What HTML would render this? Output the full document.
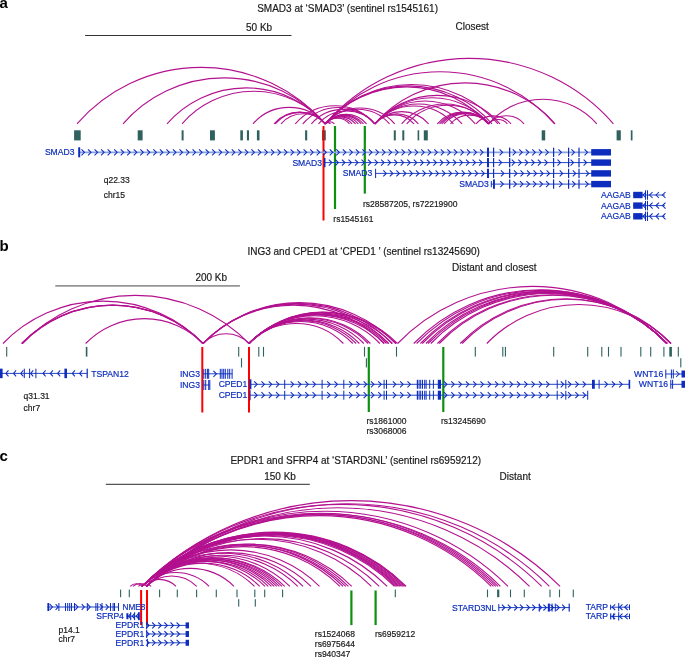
<!DOCTYPE html>
<html><head><meta charset="utf-8"><style>
html,body{margin:0;padding:0;background:#fff;}
svg{display:block;font-family:"Liberation Sans",sans-serif;-webkit-font-smoothing:antialiased;will-change:transform;}
</style></head><body>
<svg width="685" height="658" viewBox="0 0 685 658">
<text x="-0.60" y="7.90" font-size="15" fill="#000" text-anchor="start" font-weight="bold">a</text>
<text x="257.20" y="12.40" font-size="10" fill="#1a1a1a" stroke="#1a1a1a" stroke-width="0.18" text-anchor="start" font-weight="normal">SMAD3 at ‘SMAD3’ (sentinel rs1545161)</text>
<line x1="85.10" y1="35.50" x2="291.50" y2="35.50" stroke="#333" stroke-width="1.1"/>
<text x="246.00" y="30.50" font-size="10" fill="#1a1a1a" stroke="#1a1a1a" stroke-width="0.18" text-anchor="start" font-weight="normal">50 Kb</text>
<text x="455.50" y="29.60" font-size="10" fill="#1a1a1a" stroke="#1a1a1a" stroke-width="0.18" text-anchor="start" font-weight="normal">Closest</text>
<path d="M77.00,123.80 A164.82,164.82 0 0 1 325.30,123.80" fill="none" stroke="#b3118f" stroke-width="1.1"/>
<path d="M123.00,123.80 A134.28,134.28 0 0 1 325.30,123.80" fill="none" stroke="#b3118f" stroke-width="1.1"/>
<path d="M167.00,123.80 A105.08,105.08 0 0 1 325.30,123.80" fill="none" stroke="#b3118f" stroke-width="1.1"/>
<path d="M182.00,123.80 A95.12,95.12 0 0 1 325.30,123.80" fill="none" stroke="#b3118f" stroke-width="1.1"/>
<path d="M253.00,123.80 A47.99,47.99 0 0 1 325.30,123.80" fill="none" stroke="#b3118f" stroke-width="1.1"/>
<path d="M274.00,123.80 A34.05,34.05 0 0 1 325.30,123.80" fill="none" stroke="#b3118f" stroke-width="1.1"/>
<path d="M275.20,123.80 A33.26,33.26 0 0 1 325.30,123.80" fill="none" stroke="#b3118f" stroke-width="1.1"/>
<path d="M281.00,123.80 A29.41,29.41 0 0 1 325.30,123.80" fill="none" stroke="#b3118f" stroke-width="1.1"/>
<path d="M325.30,123.80 A3.45,3.45 0 0 1 330.50,123.80" fill="none" stroke="#b3118f" stroke-width="1.1"/>
<path d="M325.30,123.80 A6.04,6.04 0 0 1 334.40,123.80" fill="none" stroke="#b3118f" stroke-width="1.1"/>
<path d="M325.30,123.80 A16.06,16.06 0 0 1 349.50,123.80" fill="none" stroke="#b3118f" stroke-width="1.1"/>
<path d="M325.30,123.80 A17.79,17.79 0 0 1 352.10,123.80" fill="none" stroke="#b3118f" stroke-width="1.1"/>
<path d="M325.30,123.80 A20.11,20.11 0 0 1 355.60,123.80" fill="none" stroke="#b3118f" stroke-width="1.1"/>
<path d="M325.30,123.80 A21.90,21.90 0 0 1 358.30,123.80" fill="none" stroke="#b3118f" stroke-width="1.1"/>
<path d="M325.30,123.80 A23.90,23.90 0 0 1 361.30,123.80" fill="none" stroke="#b3118f" stroke-width="1.1"/>
<path d="M325.30,123.80 A25.36,25.36 0 0 1 363.50,123.80" fill="none" stroke="#b3118f" stroke-width="1.1"/>
<path d="M325.30,123.80 A27.41,27.41 0 0 1 366.60,123.80" fill="none" stroke="#b3118f" stroke-width="1.1"/>
<path d="M325.30,123.80 A42.61,42.61 0 0 1 389.50,123.80" fill="none" stroke="#b3118f" stroke-width="1.1"/>
<path d="M325.30,123.80 A46.07,46.07 0 0 1 394.70,123.80" fill="none" stroke="#b3118f" stroke-width="1.1"/>
<path d="M325.30,123.80 A108.00,108.00 0 0 1 488.00,123.80" fill="none" stroke="#b3118f" stroke-width="1.1"/>
<path d="M325.30,123.80 A110.65,110.65 0 0 1 492.00,123.80" fill="none" stroke="#b3118f" stroke-width="1.1"/>
<path d="M325.30,123.80 A114.63,114.63 0 0 1 498.00,123.80" fill="none" stroke="#b3118f" stroke-width="1.1"/>
<path d="M325.30,123.80 A152.20,152.20 0 0 1 554.60,123.80" fill="none" stroke="#b3118f" stroke-width="1.1"/>
<path d="M325.30,123.80 A191.23,191.23 0 0 1 613.40,123.80" fill="none" stroke="#b3118f" stroke-width="1.1"/>
<path d="M295.30,123.80 A52.77,52.77 0 0 1 374.80,123.80" fill="none" stroke="#b3118f" stroke-width="1.1"/>
<path d="M302.80,123.80 A47.79,47.79 0 0 1 374.80,123.80" fill="none" stroke="#b3118f" stroke-width="1.1"/>
<path d="M311.40,123.80 A42.08,42.08 0 0 1 374.80,123.80" fill="none" stroke="#b3118f" stroke-width="1.1"/>
<path d="M318.50,123.80 A37.37,37.37 0 0 1 374.80,123.80" fill="none" stroke="#b3118f" stroke-width="1.1"/>
<path d="M374.80,123.80 A26.02,26.02 0 0 1 414.00,123.80" fill="none" stroke="#b3118f" stroke-width="1.1"/>
<path d="M374.80,123.80 A28.94,28.94 0 0 1 418.40,123.80" fill="none" stroke="#b3118f" stroke-width="1.1"/>
<path d="M374.80,123.80 A35.71,35.71 0 0 1 428.60,123.80" fill="none" stroke="#b3118f" stroke-width="1.1"/>
<path d="M374.80,123.80 A52.17,52.17 0 0 1 453.40,123.80" fill="none" stroke="#b3118f" stroke-width="1.1"/>
<path d="M374.80,123.80 A57.88,57.88 0 0 1 462.00,123.80" fill="none" stroke="#b3118f" stroke-width="1.1"/>
<path d="M374.80,123.80 A66.71,66.71 0 0 1 475.30,123.80" fill="none" stroke="#b3118f" stroke-width="1.1"/>
<path d="M374.80,123.80 A76.14,76.14 0 0 1 489.50,123.80" fill="none" stroke="#b3118f" stroke-width="1.1"/>
<path d="M374.80,123.80 A83.10,83.10 0 0 1 500.00,123.80" fill="none" stroke="#b3118f" stroke-width="1.1"/>
<path d="M374.80,123.80 A119.68,119.68 0 0 1 555.10,123.80" fill="none" stroke="#b3118f" stroke-width="1.1"/>
<path d="M401.60,123.80 A57.75,57.75 0 0 1 488.60,123.80" fill="none" stroke="#b3118f" stroke-width="1.1"/>
<path d="M406.70,123.80 A54.36,54.36 0 0 1 488.60,123.80" fill="none" stroke="#b3118f" stroke-width="1.1"/>
<path d="M437.30,123.80 A34.05,34.05 0 0 1 488.60,123.80" fill="none" stroke="#b3118f" stroke-width="1.1"/>
<path d="M439.50,123.80 A32.59,32.59 0 0 1 488.60,123.80" fill="none" stroke="#b3118f" stroke-width="1.1"/>
<path d="M441.70,123.80 A31.13,31.13 0 0 1 488.60,123.80" fill="none" stroke="#b3118f" stroke-width="1.1"/>
<path d="M444.00,123.80 A29.60,29.60 0 0 1 488.60,123.80" fill="none" stroke="#b3118f" stroke-width="1.1"/>
<path d="M450.50,123.80 A25.29,25.29 0 0 1 488.60,123.80" fill="none" stroke="#b3118f" stroke-width="1.1"/>
<path d="M488.60,123.80 A12.48,12.48 0 0 1 507.40,123.80" fill="none" stroke="#b3118f" stroke-width="1.1"/>
<path d="M488.60,123.80 A23.50,23.50 0 0 1 524.00,123.80" fill="none" stroke="#b3118f" stroke-width="1.1"/>
<path d="M488.60,123.80 A71.82,71.82 0 0 1 596.80,123.80" fill="none" stroke="#b3118f" stroke-width="1.1"/>
<path d="M476.00,123.80 A23.23,23.23 0 0 1 511.00,123.80" fill="none" stroke="#b3118f" stroke-width="1.1"/>
<rect x="74.10" y="130.30" width="6.60" height="10.10" fill="#2f625e"/>
<rect x="137.70" y="130.30" width="4.90" height="10.10" fill="#2f625e"/>
<rect x="181.60" y="130.30" width="2.00" height="10.10" fill="#2f625e"/>
<rect x="210.00" y="130.30" width="4.90" height="10.10" fill="#2f625e"/>
<rect x="240.30" y="130.30" width="2.60" height="10.10" fill="#2f625e"/>
<rect x="246.90" y="130.30" width="2.10" height="10.10" fill="#2f625e"/>
<rect x="256.90" y="130.30" width="2.60" height="10.10" fill="#2f625e"/>
<rect x="305.10" y="130.30" width="2.10" height="10.10" fill="#2f625e"/>
<rect x="322.00" y="130.30" width="3.80" height="10.10" fill="#2f625e"/>
<rect x="334.20" y="130.30" width="1.60" height="10.10" fill="#2f625e"/>
<rect x="364.00" y="130.30" width="1.60" height="10.10" fill="#2f625e"/>
<rect x="393.80" y="130.30" width="2.00" height="10.10" fill="#2f625e"/>
<rect x="402.30" y="130.30" width="2.00" height="10.10" fill="#2f625e"/>
<rect x="417.60" y="130.30" width="1.60" height="10.10" fill="#2f625e"/>
<rect x="423.80" y="130.30" width="4.00" height="10.10" fill="#2f625e"/>
<rect x="541.70" y="130.30" width="3.50" height="10.10" fill="#2f625e"/>
<rect x="616.60" y="130.30" width="4.20" height="10.10" fill="#2f625e"/>
<rect x="630.80" y="130.30" width="1.70" height="10.10" fill="#2f625e"/>
<line x1="323.50" y1="126.00" x2="323.50" y2="220.50" stroke="#ff0000" stroke-width="2"/>
<line x1="335.00" y1="126.00" x2="335.00" y2="209.00" stroke="#0e900e" stroke-width="2.2"/>
<line x1="364.80" y1="126.00" x2="364.80" y2="193.60" stroke="#0e900e" stroke-width="2.2"/>
<text x="333.30" y="222.30" font-size="8.5" fill="#1a1a1a" stroke="#1a1a1a" stroke-width="0.18" text-anchor="start" font-weight="normal">rs1545161</text>
<text x="363.00" y="207.40" font-size="8.5" fill="#1a1a1a" stroke="#1a1a1a" stroke-width="0.18" text-anchor="start" font-weight="normal">rs28587205, rs72219900</text>
<text x="103.70" y="182.70" font-size="8.5" fill="#1a1a1a" stroke="#1a1a1a" stroke-width="0.18" text-anchor="start" font-weight="normal">q22.33</text>
<text x="103.70" y="197.60" font-size="8.5" fill="#1a1a1a" stroke="#1a1a1a" stroke-width="0.18" text-anchor="start" font-weight="normal">chr15</text>
<line x1="78.90" y1="152.30" x2="611.00" y2="152.30" stroke="#88a0e0" stroke-width="1.8"/>
<path d="M81.50,149.30L84.50,152.30L81.50,155.30M88.03,149.30L91.03,152.30L88.03,155.30M94.57,149.30L97.57,152.30L94.57,155.30M101.10,149.30L104.10,152.30L101.10,155.30M107.63,149.30L110.63,152.30L107.63,155.30M114.16,149.30L117.16,152.30L114.16,155.30M120.70,149.30L123.70,152.30L120.70,155.30M127.23,149.30L130.23,152.30L127.23,155.30M133.76,149.30L136.76,152.30L133.76,155.30M140.30,149.30L143.30,152.30L140.30,155.30M146.83,149.30L149.83,152.30L146.83,155.30M153.36,149.30L156.36,152.30L153.36,155.30M159.90,149.30L162.90,152.30L159.90,155.30M166.43,149.30L169.43,152.30L166.43,155.30M172.96,149.30L175.96,152.30L172.96,155.30M179.50,149.30L182.50,152.30L179.50,155.30M186.03,149.30L189.03,152.30L186.03,155.30M192.56,149.30L195.56,152.30L192.56,155.30M199.09,149.30L202.09,152.30L199.09,155.30M205.63,149.30L208.63,152.30L205.63,155.30M212.16,149.30L215.16,152.30L212.16,155.30M218.69,149.30L221.69,152.30L218.69,155.30M225.23,149.30L228.23,152.30L225.23,155.30M231.76,149.30L234.76,152.30L231.76,155.30M238.29,149.30L241.29,152.30L238.29,155.30M244.83,149.30L247.83,152.30L244.83,155.30M251.36,149.30L254.36,152.30L251.36,155.30M257.89,149.30L260.89,152.30L257.89,155.30M264.42,149.30L267.42,152.30L264.42,155.30M270.96,149.30L273.96,152.30L270.96,155.30M277.49,149.30L280.49,152.30L277.49,155.30M284.02,149.30L287.02,152.30L284.02,155.30M290.56,149.30L293.56,152.30L290.56,155.30M297.09,149.30L300.09,152.30L297.09,155.30M303.62,149.30L306.62,152.30L303.62,155.30M310.15,149.30L313.15,152.30L310.15,155.30M316.69,149.30L319.69,152.30L316.69,155.30M323.22,149.30L326.22,152.30L323.22,155.30M329.75,149.30L332.75,152.30L329.75,155.30M336.29,149.30L339.29,152.30L336.29,155.30M342.82,149.30L345.82,152.30L342.82,155.30M349.35,149.30L352.35,152.30L349.35,155.30M355.89,149.30L358.89,152.30L355.89,155.30M362.42,149.30L365.42,152.30L362.42,155.30M368.95,149.30L371.95,152.30L368.95,155.30M375.49,149.30L378.49,152.30L375.49,155.30M382.02,149.30L385.02,152.30L382.02,155.30M388.55,149.30L391.55,152.30L388.55,155.30M395.08,149.30L398.08,152.30L395.08,155.30M401.62,149.30L404.62,152.30L401.62,155.30M408.15,149.30L411.15,152.30L408.15,155.30M414.68,149.30L417.68,152.30L414.68,155.30M421.22,149.30L424.22,152.30L421.22,155.30M427.75,149.30L430.75,152.30L427.75,155.30M434.28,149.30L437.28,152.30L434.28,155.30M440.81,149.30L443.81,152.30L440.81,155.30M447.35,149.30L450.35,152.30L447.35,155.30M453.88,149.30L456.88,152.30L453.88,155.30M460.41,149.30L463.41,152.30L460.41,155.30M466.95,149.30L469.95,152.30L466.95,155.30M473.48,149.30L476.48,152.30L473.48,155.30M480.01,149.30L483.01,152.30L480.01,155.30M499.61,149.30L502.61,152.30L499.61,155.30M512.68,149.30L515.68,152.30L512.68,155.30M519.21,149.30L522.21,152.30L519.21,155.30M525.74,149.30L528.74,152.30L525.74,155.30M532.28,149.30L535.28,152.30L532.28,155.30M538.81,149.30L541.81,152.30L538.81,155.30M545.34,149.30L548.34,152.30L545.34,155.30M558.41,149.30L561.41,152.30L558.41,155.30M571.48,149.30L574.48,152.30L571.48,155.30M584.54,149.30L587.54,152.30L584.54,155.30" fill="none" stroke="#0c2dbd" stroke-width="1.05"/>
<rect x="78.20" y="147.30" width="2.00" height="10.00" fill="#0c2dbd"/>
<rect x="487.00" y="147.65" width="2.00" height="9.30" fill="#0c2dbd"/>
<rect x="493.00" y="147.65" width="1.20" height="9.30" fill="#0c2dbd"/>
<rect x="509.00" y="147.65" width="1.30" height="9.30" fill="#0c2dbd"/>
<rect x="553.00" y="147.65" width="1.20" height="9.30" fill="#0c2dbd"/>
<rect x="568.00" y="147.65" width="1.20" height="9.30" fill="#0c2dbd"/>
<rect x="578.40" y="147.65" width="1.20" height="9.30" fill="#0c2dbd"/>
<rect x="591.20" y="149.10" width="19.80" height="6.40" fill="#0c2dbd"/>
<text x="74.50" y="155.30" font-size="8.6" fill="#0c2dbd" stroke="#0c2dbd" stroke-width="0.18" text-anchor="end" font-weight="normal">SMAD3</text>
<line x1="324.00" y1="162.60" x2="611.00" y2="162.60" stroke="#2445c6" stroke-width="1.0"/>
<path d="M328.84,159.60L331.84,162.60L328.84,165.60M335.37,159.60L338.37,162.60L335.37,165.60M341.90,159.60L344.90,162.60L341.90,165.60M348.44,159.60L351.44,162.60L348.44,165.60M354.97,159.60L357.97,162.60L354.97,165.60M361.50,159.60L364.50,162.60L361.50,165.60M368.03,159.60L371.03,162.60L368.03,165.60M374.57,159.60L377.57,162.60L374.57,165.60M381.10,159.60L384.10,162.60L381.10,165.60M387.63,159.60L390.63,162.60L387.63,165.60M394.17,159.60L397.17,162.60L394.17,165.60M400.70,159.60L403.70,162.60L400.70,165.60M407.23,159.60L410.23,162.60L407.23,165.60M413.77,159.60L416.77,162.60L413.77,165.60M420.30,159.60L423.30,162.60L420.30,165.60M426.83,159.60L429.83,162.60L426.83,165.60M433.37,159.60L436.37,162.60L433.37,165.60M439.90,159.60L442.90,162.60L439.90,165.60M446.43,159.60L449.43,162.60L446.43,165.60M452.96,159.60L455.96,162.60L452.96,165.60M459.50,159.60L462.50,162.60L459.50,165.60M466.03,159.60L469.03,162.60L466.03,165.60M472.56,159.60L475.56,162.60L472.56,165.60M479.10,159.60L482.10,162.60L479.10,165.60M498.69,159.60L501.69,162.60L498.69,165.60M511.76,159.60L514.76,162.60L511.76,165.60M518.29,159.60L521.29,162.60L518.29,165.60M524.83,159.60L527.83,162.60L524.83,165.60M531.36,159.60L534.36,162.60L531.36,165.60M537.89,159.60L540.89,162.60L537.89,165.60M544.43,159.60L547.43,162.60L544.43,165.60M557.49,159.60L560.49,162.60L557.49,165.60M570.56,159.60L573.56,162.60L570.56,165.60M583.62,159.60L586.62,162.60L583.62,165.60" fill="none" stroke="#0c2dbd" stroke-width="1.05"/>
<rect x="324.00" y="157.95" width="1.50" height="9.30" fill="#0c2dbd"/>
<rect x="487.00" y="157.95" width="2.00" height="9.30" fill="#0c2dbd"/>
<rect x="493.00" y="157.95" width="1.20" height="9.30" fill="#0c2dbd"/>
<rect x="509.00" y="157.95" width="1.30" height="9.30" fill="#0c2dbd"/>
<rect x="553.00" y="157.95" width="1.20" height="9.30" fill="#0c2dbd"/>
<rect x="568.00" y="157.95" width="1.20" height="9.30" fill="#0c2dbd"/>
<rect x="578.40" y="157.95" width="1.20" height="9.30" fill="#0c2dbd"/>
<rect x="591.20" y="159.40" width="19.80" height="6.40" fill="#0c2dbd"/>
<text x="322.00" y="165.60" font-size="8.6" fill="#0c2dbd" stroke="#0c2dbd" stroke-width="0.18" text-anchor="end" font-weight="normal">SMAD3</text>
<line x1="375.50" y1="173.40" x2="611.00" y2="173.40" stroke="#2445c6" stroke-width="1.0"/>
<path d="M383.30,170.40L386.30,173.40L383.30,176.40M389.83,170.40L392.83,173.40L389.83,176.40M396.37,170.40L399.37,173.40L396.37,176.40M402.90,170.40L405.90,173.40L402.90,176.40M409.43,170.40L412.43,173.40L409.43,176.40M415.97,170.40L418.97,173.40L415.97,176.40M422.50,170.40L425.50,173.40L422.50,176.40M429.03,170.40L432.03,173.40L429.03,176.40M435.56,170.40L438.56,173.40L435.56,176.40M442.10,170.40L445.10,173.40L442.10,176.40M448.63,170.40L451.63,173.40L448.63,176.40M455.16,170.40L458.16,173.40L455.16,176.40M461.70,170.40L464.70,173.40L461.70,176.40M468.23,170.40L471.23,173.40L468.23,176.40M474.76,170.40L477.76,173.40L474.76,176.40M481.30,170.40L484.30,173.40L481.30,176.40M500.89,170.40L503.89,173.40L500.89,176.40M513.96,170.40L516.96,173.40L513.96,176.40M520.49,170.40L523.49,173.40L520.49,176.40M527.03,170.40L530.03,173.40L527.03,176.40M533.56,170.40L536.56,173.40L533.56,176.40M540.09,170.40L543.09,173.40L540.09,176.40M546.63,170.40L549.63,173.40L546.63,176.40M559.69,170.40L562.69,173.40L559.69,176.40M572.76,170.40L575.76,173.40L572.76,176.40M585.82,170.40L588.82,173.40L585.82,176.40" fill="none" stroke="#0c2dbd" stroke-width="1.05"/>
<rect x="375.10" y="168.75" width="1.00" height="9.30" fill="#0c2dbd"/>
<rect x="487.00" y="168.75" width="2.00" height="9.30" fill="#0c2dbd"/>
<rect x="493.00" y="168.75" width="1.20" height="9.30" fill="#0c2dbd"/>
<rect x="509.00" y="168.75" width="1.30" height="9.30" fill="#0c2dbd"/>
<rect x="553.00" y="168.75" width="1.20" height="9.30" fill="#0c2dbd"/>
<rect x="568.00" y="168.75" width="1.20" height="9.30" fill="#0c2dbd"/>
<rect x="578.40" y="168.75" width="1.20" height="9.30" fill="#0c2dbd"/>
<rect x="591.20" y="170.20" width="19.80" height="6.40" fill="#0c2dbd"/>
<text x="372.30" y="176.40" font-size="8.6" fill="#0c2dbd" stroke="#0c2dbd" stroke-width="0.18" text-anchor="end" font-weight="normal">SMAD3</text>
<line x1="491.30" y1="184.10" x2="611.00" y2="184.10" stroke="#2445c6" stroke-width="1.0"/>
<path d="M500.33,181.10L503.33,184.10L500.33,187.10M513.40,181.10L516.40,184.10L513.40,187.10M519.93,181.10L522.93,184.10L519.93,187.10M526.47,181.10L529.47,184.10L526.47,187.10M533.00,181.10L536.00,184.10L533.00,187.10M539.53,181.10L542.53,184.10L539.53,187.10M546.06,181.10L549.06,184.10L546.06,187.10M559.13,181.10L562.13,184.10L559.13,187.10M572.20,181.10L575.20,184.10L572.20,187.10M585.26,181.10L588.26,184.10L585.26,187.10" fill="none" stroke="#0c2dbd" stroke-width="1.05"/>
<rect x="490.80" y="180.95" width="1.00" height="6.30" fill="#0c2dbd"/>
<rect x="493.90" y="179.40" width="1.00" height="9.40" fill="#0c2dbd"/>
<rect x="493.00" y="179.45" width="1.20" height="9.30" fill="#0c2dbd"/>
<rect x="509.00" y="179.45" width="1.30" height="9.30" fill="#0c2dbd"/>
<rect x="553.00" y="179.45" width="1.20" height="9.30" fill="#0c2dbd"/>
<rect x="568.00" y="179.45" width="1.20" height="9.30" fill="#0c2dbd"/>
<rect x="578.40" y="179.45" width="1.20" height="9.30" fill="#0c2dbd"/>
<rect x="591.20" y="180.90" width="19.80" height="6.40" fill="#0c2dbd"/>
<text x="488.80" y="187.10" font-size="8.6" fill="#0c2dbd" stroke="#0c2dbd" stroke-width="0.18" text-anchor="end" font-weight="normal">SMAD3</text>
<line x1="633.20" y1="195.00" x2="664.80" y2="195.00" stroke="#2445c6" stroke-width="1.0"/>
<path d="M646.00,192.00L643.00,195.00L646.00,198.00M652.60,192.00L649.60,195.00L652.60,198.00M659.00,192.00L656.00,195.00L659.00,198.00M665.50,192.00L662.50,195.00L665.50,198.00" fill="none" stroke="#0c2dbd" stroke-width="1.05"/>
<rect x="633.20" y="191.80" width="9.40" height="6.40" fill="#0c2dbd"/>
<rect x="645.00" y="190.30" width="1.00" height="9.40" fill="#0c2dbd"/>
<rect x="647.00" y="190.30" width="1.00" height="9.40" fill="#0c2dbd"/>
<text x="630.70" y="198.00" font-size="8.6" fill="#0c2dbd" stroke="#0c2dbd" stroke-width="0.18" text-anchor="end" font-weight="normal">AAGAB</text>
<line x1="633.20" y1="205.60" x2="664.80" y2="205.60" stroke="#2445c6" stroke-width="1.0"/>
<path d="M646.00,202.60L643.00,205.60L646.00,208.60M652.60,202.60L649.60,205.60L652.60,208.60M659.00,202.60L656.00,205.60L659.00,208.60M665.50,202.60L662.50,205.60L665.50,208.60" fill="none" stroke="#0c2dbd" stroke-width="1.05"/>
<rect x="633.20" y="202.40" width="9.40" height="6.40" fill="#0c2dbd"/>
<rect x="645.00" y="200.90" width="1.00" height="9.40" fill="#0c2dbd"/>
<rect x="647.00" y="200.90" width="1.00" height="9.40" fill="#0c2dbd"/>
<text x="630.70" y="208.60" font-size="8.6" fill="#0c2dbd" stroke="#0c2dbd" stroke-width="0.18" text-anchor="end" font-weight="normal">AAGAB</text>
<line x1="633.20" y1="216.30" x2="664.80" y2="216.30" stroke="#2445c6" stroke-width="1.0"/>
<path d="M646.00,213.30L643.00,216.30L646.00,219.30M652.60,213.30L649.60,216.30L652.60,219.30M659.00,213.30L656.00,216.30L659.00,219.30M665.50,213.30L662.50,216.30L665.50,219.30" fill="none" stroke="#0c2dbd" stroke-width="1.05"/>
<rect x="633.20" y="213.10" width="9.40" height="6.40" fill="#0c2dbd"/>
<rect x="645.00" y="211.60" width="1.00" height="9.40" fill="#0c2dbd"/>
<rect x="647.00" y="211.60" width="1.00" height="9.40" fill="#0c2dbd"/>
<text x="630.70" y="219.30" font-size="8.6" fill="#0c2dbd" stroke="#0c2dbd" stroke-width="0.18" text-anchor="end" font-weight="normal">AAGAB</text>
<text x="-0.60" y="250.70" font-size="15" fill="#000" text-anchor="start" font-weight="bold">b</text>
<text x="247.40" y="254.90" font-size="10" fill="#1a1a1a" stroke="#1a1a1a" stroke-width="0.18" text-anchor="start" font-weight="normal">ING3 and CPED1 at ‘CPED1 ’ (sentinel rs13245690)</text>
<text x="452.00" y="271.00" font-size="10" fill="#1a1a1a" stroke="#1a1a1a" stroke-width="0.18" text-anchor="start" font-weight="normal">Distant and closest</text>
<line x1="55.30" y1="285.90" x2="239.90" y2="285.90" stroke="#959595" stroke-width="1.7"/>
<text x="195.40" y="280.80" font-size="10" fill="#1a1a1a" stroke="#1a1a1a" stroke-width="0.18" text-anchor="start" font-weight="normal">200 Kb</text>
<path d="M3.00,343.50 A139.12,139.12 0 0 1 203.00,343.50" fill="none" stroke="#b3118f" stroke-width="1.1"/>
<path d="M22.00,343.50 A157.91,157.91 0 0 1 249.00,343.50" fill="none" stroke="#b3118f" stroke-width="1.1"/>
<path d="M21.50,343.50 A126.26,126.26 0 0 1 203.00,343.50" fill="none" stroke="#b3118f" stroke-width="1.1"/>
<path d="M22.00,343.50 A125.91,125.91 0 0 1 203.00,343.50" fill="none" stroke="#b3118f" stroke-width="1.1"/>
<path d="M22.50,343.50 A125.56,125.56 0 0 1 203.00,343.50" fill="none" stroke="#b3118f" stroke-width="1.1"/>
<path d="M85.60,343.50 A81.67,81.67 0 0 1 203.00,343.50" fill="none" stroke="#b3118f" stroke-width="1.1"/>
<path d="M203.00,343.50 A32.00,32.00 0 0 1 249.00,343.50" fill="none" stroke="#b3118f" stroke-width="1.1"/>
<path d="M203.00,343.50 A126.05,126.05 0 0 1 384.20,343.50" fill="none" stroke="#b3118f" stroke-width="1.1"/>
<path d="M203.00,343.50 A129.11,129.11 0 0 1 388.60,343.50" fill="none" stroke="#b3118f" stroke-width="1.1"/>
<path d="M203.00,343.50 A131.68,131.68 0 0 1 392.30,343.50" fill="none" stroke="#b3118f" stroke-width="1.1"/>
<path d="M203.00,343.50 A134.19,134.19 0 0 1 395.90,343.50" fill="none" stroke="#b3118f" stroke-width="1.1"/>
<path d="M249.00,343.50 A65.67,65.67 0 0 1 343.40,343.50" fill="none" stroke="#b3118f" stroke-width="1.1"/>
<path d="M249.00,343.50 A72.21,72.21 0 0 1 352.80,343.50" fill="none" stroke="#b3118f" stroke-width="1.1"/>
<path d="M249.00,343.50 A74.57,74.57 0 0 1 356.20,343.50" fill="none" stroke="#b3118f" stroke-width="1.1"/>
<path d="M249.00,343.50 A76.80,76.80 0 0 1 359.40,343.50" fill="none" stroke="#b3118f" stroke-width="1.1"/>
<path d="M249.00,343.50 A79.86,79.86 0 0 1 363.80,343.50" fill="none" stroke="#b3118f" stroke-width="1.1"/>
<path d="M249.00,343.50 A82.92,82.92 0 0 1 368.20,343.50" fill="none" stroke="#b3118f" stroke-width="1.1"/>
<path d="M249.00,343.50 A84.45,84.45 0 0 1 370.40,343.50" fill="none" stroke="#b3118f" stroke-width="1.1"/>
<path d="M249.00,343.50 A91.06,91.06 0 0 1 379.90,343.50" fill="none" stroke="#b3118f" stroke-width="1.1"/>
<path d="M249.00,343.50 A94.05,94.05 0 0 1 384.20,343.50" fill="none" stroke="#b3118f" stroke-width="1.1"/>
<path d="M249.00,343.50 A95.65,95.65 0 0 1 386.50,343.50" fill="none" stroke="#b3118f" stroke-width="1.1"/>
<path d="M249.00,343.50 A97.11,97.11 0 0 1 388.60,343.50" fill="none" stroke="#b3118f" stroke-width="1.1"/>
<path d="M249.00,343.50 A99.68,99.68 0 0 1 392.30,343.50" fill="none" stroke="#b3118f" stroke-width="1.1"/>
<path d="M249.00,343.50 A102.19,102.19 0 0 1 395.90,343.50" fill="none" stroke="#b3118f" stroke-width="1.1"/>
<path d="M249.00,343.50 A103.23,103.23 0 0 1 397.40,343.50" fill="none" stroke="#b3118f" stroke-width="1.1"/>
<path d="M397.60,343.50 A187.40,187.40 0 0 1 667.00,343.50" fill="none" stroke="#b3118f" stroke-width="1.1"/>
<path d="M413.70,343.50 A176.20,176.20 0 0 1 667.00,343.50" fill="none" stroke="#b3118f" stroke-width="1.1"/>
<path d="M416.60,343.50 A174.18,174.18 0 0 1 667.00,343.50" fill="none" stroke="#b3118f" stroke-width="1.1"/>
<path d="M420.40,343.50 A171.54,171.54 0 0 1 667.00,343.50" fill="none" stroke="#b3118f" stroke-width="1.1"/>
<path d="M422.30,343.50 A170.22,170.22 0 0 1 667.00,343.50" fill="none" stroke="#b3118f" stroke-width="1.1"/>
<path d="M426.00,343.50 A167.65,167.65 0 0 1 667.00,343.50" fill="none" stroke="#b3118f" stroke-width="1.1"/>
<path d="M428.00,343.50 A166.25,166.25 0 0 1 667.00,343.50" fill="none" stroke="#b3118f" stroke-width="1.1"/>
<path d="M430.80,343.50 A164.31,164.31 0 0 1 667.00,343.50" fill="none" stroke="#b3118f" stroke-width="1.1"/>
<path d="M437.40,343.50 A159.71,159.71 0 0 1 667.00,343.50" fill="none" stroke="#b3118f" stroke-width="1.1"/>
<path d="M439.30,343.50 A158.39,158.39 0 0 1 667.00,343.50" fill="none" stroke="#b3118f" stroke-width="1.1"/>
<path d="M460.20,343.50 A146.64,146.64 0 0 1 671.00,343.50" fill="none" stroke="#b3118f" stroke-width="1.1"/>
<path d="M462.10,343.50 A145.32,145.32 0 0 1 671.00,343.50" fill="none" stroke="#b3118f" stroke-width="1.1"/>
<path d="M486.80,343.50 A128.13,128.13 0 0 1 671.00,343.50" fill="none" stroke="#b3118f" stroke-width="1.1"/>
<rect x="6.15" y="346.90" width="1.10" height="9.70" fill="#2f625e"/>
<rect x="85.80" y="346.90" width="1.60" height="9.70" fill="#2f625e"/>
<rect x="238.15" y="346.90" width="1.10" height="9.70" fill="#2f625e"/>
<rect x="248.45" y="346.90" width="1.10" height="9.70" fill="#2f625e"/>
<rect x="258.25" y="346.90" width="1.10" height="9.70" fill="#2f625e"/>
<rect x="262.95" y="346.90" width="1.10" height="9.70" fill="#2f625e"/>
<rect x="363.95" y="346.90" width="1.10" height="9.70" fill="#2f625e"/>
<rect x="395.95" y="346.90" width="1.10" height="9.70" fill="#2f625e"/>
<rect x="474.75" y="346.90" width="1.10" height="9.70" fill="#2f625e"/>
<rect x="502.25" y="346.90" width="1.10" height="9.70" fill="#2f625e"/>
<rect x="504.85" y="346.90" width="1.10" height="9.70" fill="#2f625e"/>
<rect x="553.15" y="346.90" width="1.10" height="9.70" fill="#2f625e"/>
<rect x="587.15" y="346.90" width="1.10" height="9.70" fill="#2f625e"/>
<rect x="601.25" y="346.90" width="1.10" height="9.70" fill="#2f625e"/>
<rect x="607.95" y="346.90" width="1.10" height="9.70" fill="#2f625e"/>
<rect x="620.45" y="346.90" width="1.10" height="9.70" fill="#2f625e"/>
<rect x="640.25" y="346.90" width="1.10" height="9.70" fill="#2f625e"/>
<rect x="650.15" y="346.90" width="1.10" height="9.70" fill="#2f625e"/>
<rect x="663.35" y="346.90" width="1.10" height="9.70" fill="#2f625e"/>
<rect x="669.30" y="346.90" width="2.60" height="9.70" fill="#2f625e"/>
<rect x="677.75" y="346.90" width="1.10" height="9.70" fill="#2f625e"/>
<rect x="240.95" y="358.20" width="1.10" height="9.20" fill="#2f625e"/>
<rect x="365.85" y="358.20" width="1.10" height="9.20" fill="#2f625e"/>
<rect x="680.25" y="358.20" width="1.10" height="9.20" fill="#2f625e"/>
<line x1="202.30" y1="347.00" x2="202.30" y2="412.50" stroke="#ff0000" stroke-width="2"/>
<line x1="249.00" y1="347.00" x2="249.00" y2="412.50" stroke="#ff0000" stroke-width="2"/>
<line x1="368.80" y1="347.00" x2="368.80" y2="412.00" stroke="#0e900e" stroke-width="2.2"/>
<line x1="443.30" y1="347.00" x2="443.30" y2="412.00" stroke="#0e900e" stroke-width="2.2"/>
<text x="366.40" y="424.10" font-size="8.5" fill="#1a1a1a" stroke="#1a1a1a" stroke-width="0.18" text-anchor="start" font-weight="normal">rs1861000</text>
<text x="366.40" y="434.40" font-size="8.5" fill="#1a1a1a" stroke="#1a1a1a" stroke-width="0.18" text-anchor="start" font-weight="normal">rs3068006</text>
<text x="440.90" y="424.10" font-size="8.5" fill="#1a1a1a" stroke="#1a1a1a" stroke-width="0.18" text-anchor="start" font-weight="normal">rs13245690</text>
<text x="23.60" y="399.00" font-size="8.5" fill="#1a1a1a" stroke="#1a1a1a" stroke-width="0.18" text-anchor="start" font-weight="normal">q31.31</text>
<text x="23.60" y="410.60" font-size="8.5" fill="#1a1a1a" stroke="#1a1a1a" stroke-width="0.18" text-anchor="start" font-weight="normal">chr7</text>
<line x1="0.00" y1="373.40" x2="87.30" y2="373.40" stroke="#2445c6" stroke-width="1.0"/>
<path d="M8.50,370.40L5.90,373.40L8.50,376.40M16.10,370.40L13.50,373.40L16.10,376.40M23.30,370.40L20.70,373.40L23.30,376.40M33.20,370.40L30.60,373.40L33.20,376.40M45.60,370.40L43.00,373.40L45.60,376.40M52.90,370.40L50.30,373.40L52.90,376.40M60.20,370.40L57.60,373.40L60.20,376.40M74.90,370.40L72.30,373.40L74.90,376.40M82.20,370.40L79.60,373.40L82.20,376.40" fill="none" stroke="#0c2dbd" stroke-width="1.05"/>
<rect x="0.00" y="368.65" width="2.60" height="9.50" fill="#0c2dbd"/>
<rect x="23.80" y="368.65" width="1.00" height="9.50" fill="#0c2dbd"/>
<rect x="29.10" y="368.65" width="1.00" height="9.50" fill="#0c2dbd"/>
<rect x="35.40" y="368.65" width="1.00" height="9.50" fill="#0c2dbd"/>
<rect x="64.40" y="368.65" width="2.60" height="9.50" fill="#0c2dbd"/>
<rect x="86.60" y="368.65" width="1.20" height="9.50" fill="#0c2dbd"/>
<text x="91.30" y="377.00" font-size="8.6" fill="#0c2dbd" stroke="#0c2dbd" stroke-width="0.18" text-anchor="start" font-weight="normal">TSPAN12</text>
<line x1="203.30" y1="373.80" x2="232.30" y2="373.80" stroke="#2445c6" stroke-width="1.0"/>
<path d="M213.45,370.80L216.45,373.80L213.45,376.80" fill="none" stroke="#0c2dbd" stroke-width="1.05"/>
<rect x="203.30" y="368.80" width="1.00" height="10.00" fill="#0c2dbd"/>
<rect x="205.20" y="368.80" width="1.00" height="10.00" fill="#0c2dbd"/>
<rect x="207.10" y="368.80" width="1.00" height="10.00" fill="#0c2dbd"/>
<rect x="208.20" y="368.80" width="1.00" height="10.00" fill="#0c2dbd"/>
<rect x="219.80" y="368.80" width="1.00" height="10.00" fill="#0c2dbd"/>
<rect x="221.50" y="368.80" width="1.00" height="10.00" fill="#0c2dbd"/>
<rect x="223.20" y="368.80" width="1.00" height="10.00" fill="#0c2dbd"/>
<rect x="224.80" y="368.80" width="1.00" height="10.00" fill="#0c2dbd"/>
<rect x="227.30" y="368.80" width="1.00" height="10.00" fill="#0c2dbd"/>
<rect x="229.20" y="368.80" width="1.00" height="10.00" fill="#0c2dbd"/>
<rect x="231.60" y="368.80" width="1.00" height="10.00" fill="#0c2dbd"/>
<text x="200.00" y="376.80" font-size="8.6" fill="#0c2dbd" stroke="#0c2dbd" stroke-width="0.18" text-anchor="end" font-weight="normal">ING3</text>
<line x1="203.30" y1="385.00" x2="209.80" y2="385.00" stroke="#2445c6" stroke-width="1.0"/>
<rect x="203.30" y="380.00" width="1.00" height="10.00" fill="#0c2dbd"/>
<rect x="205.20" y="380.00" width="1.00" height="10.00" fill="#0c2dbd"/>
<rect x="208.20" y="380.00" width="1.00" height="10.00" fill="#0c2dbd"/>
<rect x="209.30" y="380.00" width="1.00" height="10.00" fill="#0c2dbd"/>
<text x="200.00" y="388.00" font-size="8.6" fill="#0c2dbd" stroke="#0c2dbd" stroke-width="0.18" text-anchor="end" font-weight="normal">ING3</text>
<line x1="249.80" y1="384.30" x2="629.90" y2="384.30" stroke="#2445c6" stroke-width="1.0"/>
<path d="M254.15,381.30L257.15,384.30L254.15,387.30M261.45,381.30L264.45,384.30L261.45,387.30M268.75,381.30L271.75,384.30L268.75,387.30M276.05,381.30L279.05,384.30L276.05,387.30M290.65,381.30L293.65,384.30L290.65,387.30M297.95,381.30L300.95,384.30L297.95,387.30M305.25,381.30L308.25,384.30L305.25,387.30M312.55,381.30L315.55,384.30L312.55,387.30M327.15,381.30L330.15,384.30L327.15,387.30M334.45,381.30L337.45,384.30L334.45,387.30M349.05,381.30L352.05,384.30L349.05,387.30M356.35,381.30L359.35,384.30L356.35,387.30M363.65,381.30L366.65,384.30L363.65,387.30M370.95,381.30L373.95,384.30L370.95,387.30M378.25,381.30L381.25,384.30L378.25,387.30M392.85,381.30L395.85,384.30L392.85,387.30M400.15,381.30L403.15,384.30L400.15,387.30M407.45,381.30L410.45,384.30L407.45,387.30M443.95,381.30L446.95,384.30L443.95,387.30M451.25,381.30L454.25,384.30L451.25,387.30M458.55,381.30L461.55,384.30L458.55,387.30M465.85,381.30L468.85,384.30L465.85,387.30M473.15,381.30L476.15,384.30L473.15,387.30M480.45,381.30L483.45,384.30L480.45,387.30M487.75,381.30L490.75,384.30L487.75,387.30M495.05,381.30L498.05,384.30L495.05,387.30M502.35,381.30L505.35,384.30L502.35,387.30M509.65,381.30L512.65,384.30L509.65,387.30M516.95,381.30L519.95,384.30L516.95,387.30M524.25,381.30L527.25,384.30L524.25,387.30M531.55,381.30L534.55,384.30L531.55,387.30M538.85,381.30L541.85,384.30L538.85,387.30M546.15,381.30L549.15,384.30L546.15,387.30M560.75,381.30L563.75,384.30L560.75,387.30M568.05,381.30L571.05,384.30L568.05,387.30M575.35,381.30L578.35,384.30L575.35,387.30M582.65,381.30L585.65,384.30L582.65,387.30M604.55,381.30L607.55,384.30L604.55,387.30M611.85,381.30L614.85,384.30L611.85,387.30M619.15,381.30L622.15,384.30L619.15,387.30" fill="none" stroke="#0c2dbd" stroke-width="1.05"/>
<rect x="249.40" y="379.30" width="2.00" height="10.00" fill="#0c2dbd"/>
<rect x="284.20" y="379.80" width="1.00" height="9.00" fill="#0c2dbd"/>
<rect x="321.60" y="379.80" width="1.00" height="9.00" fill="#0c2dbd"/>
<rect x="343.30" y="379.80" width="1.00" height="9.00" fill="#0c2dbd"/>
<rect x="383.60" y="379.80" width="1.00" height="9.00" fill="#0c2dbd"/>
<rect x="386.00" y="379.80" width="1.00" height="9.00" fill="#0c2dbd"/>
<rect x="416.80" y="379.80" width="1.20" height="9.00" fill="#0c2dbd"/>
<rect x="418.60" y="379.80" width="1.00" height="9.00" fill="#0c2dbd"/>
<rect x="420.20" y="379.80" width="1.00" height="9.00" fill="#0c2dbd"/>
<rect x="422.00" y="379.80" width="1.00" height="9.00" fill="#0c2dbd"/>
<rect x="424.20" y="379.80" width="1.00" height="9.00" fill="#0c2dbd"/>
<rect x="425.60" y="379.80" width="1.00" height="9.00" fill="#0c2dbd"/>
<rect x="429.20" y="379.80" width="1.00" height="9.00" fill="#0c2dbd"/>
<rect x="432.90" y="379.80" width="1.00" height="9.00" fill="#0c2dbd"/>
<rect x="437.80" y="379.80" width="3.20" height="9.00" fill="#0c2dbd"/>
<rect x="556.70" y="379.80" width="1.00" height="9.00" fill="#0c2dbd"/>
<rect x="565.30" y="379.80" width="1.00" height="9.00" fill="#0c2dbd"/>
<rect x="592.00" y="379.80" width="2.80" height="9.00" fill="#0c2dbd"/>
<rect x="598.60" y="379.80" width="1.00" height="9.00" fill="#0c2dbd"/>
<rect x="628.60" y="379.80" width="1.60" height="9.00" fill="#0c2dbd"/>
<text x="247.30" y="387.30" font-size="8.6" fill="#0c2dbd" stroke="#0c2dbd" stroke-width="0.18" text-anchor="end" font-weight="normal">CPED1</text>
<line x1="249.80" y1="395.20" x2="587.70" y2="395.20" stroke="#2445c6" stroke-width="1.0"/>
<path d="M254.15,392.20L257.15,395.20L254.15,398.20M261.45,392.20L264.45,395.20L261.45,398.20M268.75,392.20L271.75,395.20L268.75,398.20M276.05,392.20L279.05,395.20L276.05,398.20M290.65,392.20L293.65,395.20L290.65,398.20M297.95,392.20L300.95,395.20L297.95,398.20M305.25,392.20L308.25,395.20L305.25,398.20M312.55,392.20L315.55,395.20L312.55,398.20M327.15,392.20L330.15,395.20L327.15,398.20M334.45,392.20L337.45,395.20L334.45,398.20M349.05,392.20L352.05,395.20L349.05,398.20M356.35,392.20L359.35,395.20L356.35,398.20M363.65,392.20L366.65,395.20L363.65,398.20M370.95,392.20L373.95,395.20L370.95,398.20M378.25,392.20L381.25,395.20L378.25,398.20M392.85,392.20L395.85,395.20L392.85,398.20M400.15,392.20L403.15,395.20L400.15,398.20M407.45,392.20L410.45,395.20L407.45,398.20M443.95,392.20L446.95,395.20L443.95,398.20M451.25,392.20L454.25,395.20L451.25,398.20M458.55,392.20L461.55,395.20L458.55,398.20M465.85,392.20L468.85,395.20L465.85,398.20M473.15,392.20L476.15,395.20L473.15,398.20M480.45,392.20L483.45,395.20L480.45,398.20M487.75,392.20L490.75,395.20L487.75,398.20M495.05,392.20L498.05,395.20L495.05,398.20M502.35,392.20L505.35,395.20L502.35,398.20M509.65,392.20L512.65,395.20L509.65,398.20M516.95,392.20L519.95,395.20L516.95,398.20M524.25,392.20L527.25,395.20L524.25,398.20M531.55,392.20L534.55,395.20L531.55,398.20M538.85,392.20L541.85,395.20L538.85,398.20M546.15,392.20L549.15,395.20L546.15,398.20M560.75,392.20L563.75,395.20L560.75,398.20M568.05,392.20L571.05,395.20L568.05,398.20M575.35,392.20L578.35,395.20L575.35,398.20M582.65,392.20L585.65,395.20L582.65,398.20" fill="none" stroke="#0c2dbd" stroke-width="1.05"/>
<rect x="249.60" y="390.20" width="1.00" height="10.00" fill="#0c2dbd"/>
<rect x="284.20" y="390.70" width="1.00" height="9.00" fill="#0c2dbd"/>
<rect x="321.60" y="390.70" width="1.00" height="9.00" fill="#0c2dbd"/>
<rect x="343.30" y="390.70" width="1.00" height="9.00" fill="#0c2dbd"/>
<rect x="383.60" y="390.70" width="1.00" height="9.00" fill="#0c2dbd"/>
<rect x="386.00" y="390.70" width="1.00" height="9.00" fill="#0c2dbd"/>
<rect x="416.80" y="390.70" width="1.20" height="9.00" fill="#0c2dbd"/>
<rect x="418.60" y="390.70" width="1.00" height="9.00" fill="#0c2dbd"/>
<rect x="420.20" y="390.70" width="1.00" height="9.00" fill="#0c2dbd"/>
<rect x="422.00" y="390.70" width="1.00" height="9.00" fill="#0c2dbd"/>
<rect x="424.20" y="390.70" width="1.00" height="9.00" fill="#0c2dbd"/>
<rect x="425.60" y="390.70" width="1.00" height="9.00" fill="#0c2dbd"/>
<rect x="429.20" y="390.70" width="1.00" height="9.00" fill="#0c2dbd"/>
<rect x="432.90" y="390.70" width="1.00" height="9.00" fill="#0c2dbd"/>
<rect x="437.80" y="390.70" width="3.20" height="9.00" fill="#0c2dbd"/>
<rect x="556.70" y="390.70" width="1.00" height="9.00" fill="#0c2dbd"/>
<rect x="565.30" y="390.70" width="1.00" height="9.00" fill="#0c2dbd"/>
<rect x="587.20" y="390.70" width="1.00" height="9.00" fill="#0c2dbd"/>
<text x="247.30" y="398.20" font-size="8.6" fill="#0c2dbd" stroke="#0c2dbd" stroke-width="0.18" text-anchor="end" font-weight="normal">CPED1</text>
<line x1="665.70" y1="374.00" x2="685.50" y2="374.00" stroke="#2445c6" stroke-width="1.0"/>
<path d="M676.15,371.00L679.15,374.00L676.15,377.00" fill="none" stroke="#0c2dbd" stroke-width="1.05"/>
<rect x="665.30" y="369.50" width="1.00" height="9.00" fill="#0c2dbd"/>
<rect x="670.90" y="369.50" width="1.00" height="9.00" fill="#0c2dbd"/>
<rect x="672.80" y="369.50" width="1.00" height="9.00" fill="#0c2dbd"/>
<rect x="681.50" y="370.50" width="4.00" height="7.00" fill="#0c2dbd"/>
<text x="663.20" y="377.00" font-size="8.6" fill="#0c2dbd" stroke="#0c2dbd" stroke-width="0.18" text-anchor="end" font-weight="normal">WNT16</text>
<line x1="670.50" y1="384.30" x2="685.50" y2="384.30" stroke="#2445c6" stroke-width="1.0"/>
<rect x="670.30" y="379.80" width="1.00" height="9.00" fill="#0c2dbd"/>
<rect x="672.10" y="379.80" width="1.00" height="9.00" fill="#0c2dbd"/>
<rect x="681.50" y="380.80" width="4.00" height="7.00" fill="#0c2dbd"/>
<text x="668.00" y="387.30" font-size="8.6" fill="#0c2dbd" stroke="#0c2dbd" stroke-width="0.18" text-anchor="end" font-weight="normal">WNT16</text>
<text x="-0.60" y="460.60" font-size="15" fill="#000" text-anchor="start" font-weight="bold">c</text>
<text x="230.40" y="463.60" font-size="10" fill="#1a1a1a" stroke="#1a1a1a" stroke-width="0.18" text-anchor="start" font-weight="normal">EPDR1 and SFRP4 at ‘STARD3NL’ (sentinel rs6959212)</text>
<text x="264.20" y="479.80" font-size="10" fill="#1a1a1a" stroke="#1a1a1a" stroke-width="0.18" text-anchor="start" font-weight="normal">150 Kb</text>
<line x1="105.80" y1="484.40" x2="309.80" y2="484.40" stroke="#555" stroke-width="1.1"/>
<text x="499.60" y="479.80" font-size="10" fill="#1a1a1a" stroke="#1a1a1a" stroke-width="0.18" text-anchor="start" font-weight="normal">Distant</text>
<path d="M130.20,586.30 A8.76,8.76 0 0 1 142.50,586.30" fill="none" stroke="#b3118f" stroke-width="1.1"/>
<path d="M138.40,586.30 A9.12,9.12 0 0 1 151.20,586.30" fill="none" stroke="#b3118f" stroke-width="1.1"/>
<path d="M133.00,586.30 A9.97,9.97 0 0 1 147.00,586.30" fill="none" stroke="#b3118f" stroke-width="1.1"/>
<path d="M142.00,586.30 A24.22,24.22 0 0 1 176.00,586.30" fill="none" stroke="#b3118f" stroke-width="1.1"/>
<path d="M146.60,586.30 A35.68,35.68 0 0 1 196.70,586.30" fill="none" stroke="#b3118f" stroke-width="1.1"/>
<path d="M142.00,586.30 A47.79,47.79 0 0 1 209.10,586.30" fill="none" stroke="#b3118f" stroke-width="1.1"/>
<path d="M146.60,586.30 A62.25,62.25 0 0 1 234.00,586.30" fill="none" stroke="#b3118f" stroke-width="1.1"/>
<path d="M142.00,586.30 A80.13,80.13 0 0 1 254.50,586.30" fill="none" stroke="#b3118f" stroke-width="1.1"/>
<path d="M146.60,586.30 A80.56,80.56 0 0 1 259.70,586.30" fill="none" stroke="#b3118f" stroke-width="1.1"/>
<path d="M142.00,586.30 A87.61,87.61 0 0 1 265.00,586.30" fill="none" stroke="#b3118f" stroke-width="1.1"/>
<path d="M146.60,586.30 A86.68,86.68 0 0 1 268.30,586.30" fill="none" stroke="#b3118f" stroke-width="1.1"/>
<path d="M142.00,586.30 A92.24,92.24 0 0 1 271.50,586.30" fill="none" stroke="#b3118f" stroke-width="1.1"/>
<path d="M146.60,586.30 A90.88,90.88 0 0 1 274.20,586.30" fill="none" stroke="#b3118f" stroke-width="1.1"/>
<path d="M142.00,586.30 A96.01,96.01 0 0 1 276.80,586.30" fill="none" stroke="#b3118f" stroke-width="1.1"/>
<path d="M146.60,586.30 A94.59,94.59 0 0 1 279.40,586.30" fill="none" stroke="#b3118f" stroke-width="1.1"/>
<path d="M142.00,586.30 A99.72,99.72 0 0 1 282.00,586.30" fill="none" stroke="#b3118f" stroke-width="1.1"/>
<path d="M146.60,586.30 A98.36,98.36 0 0 1 284.70,586.30" fill="none" stroke="#b3118f" stroke-width="1.1"/>
<path d="M142.00,586.30 A105.34,105.34 0 0 1 289.90,586.30" fill="none" stroke="#b3118f" stroke-width="1.1"/>
<path d="M146.60,586.30 A107.69,107.69 0 0 1 297.80,586.30" fill="none" stroke="#b3118f" stroke-width="1.1"/>
<path d="M142.00,586.30 A114.74,114.74 0 0 1 303.10,586.30" fill="none" stroke="#b3118f" stroke-width="1.1"/>
<path d="M146.60,586.30 A117.09,117.09 0 0 1 311.00,586.30" fill="none" stroke="#b3118f" stroke-width="1.1"/>
<path d="M142.00,586.30 A126.43,126.43 0 0 1 319.50,586.30" fill="none" stroke="#b3118f" stroke-width="1.1"/>
<path d="M146.60,586.30 A137.68,137.68 0 0 1 339.90,586.30" fill="none" stroke="#b3118f" stroke-width="1.1"/>
<path d="M142.00,586.30 A143.23,143.23 0 0 1 343.10,586.30" fill="none" stroke="#b3118f" stroke-width="1.1"/>
<path d="M146.60,586.30 A141.88,141.88 0 0 1 345.80,586.30" fill="none" stroke="#b3118f" stroke-width="1.1"/>
<path d="M142.00,586.30 A147.01,147.01 0 0 1 348.40,586.30" fill="none" stroke="#b3118f" stroke-width="1.1"/>
<path d="M146.60,586.30 A146.08,146.08 0 0 1 351.70,586.30" fill="none" stroke="#b3118f" stroke-width="1.1"/>
<path d="M142.00,586.30 A163.39,163.39 0 0 1 371.40,586.30" fill="none" stroke="#b3118f" stroke-width="1.1"/>
<path d="M146.60,586.30 A165.74,165.74 0 0 1 379.30,586.30" fill="none" stroke="#b3118f" stroke-width="1.1"/>
<path d="M142.00,586.30 A174.65,174.65 0 0 1 387.20,586.30" fill="none" stroke="#b3118f" stroke-width="1.1"/>
<path d="M146.60,586.30 A176.50,176.50 0 0 1 394.40,586.30" fill="none" stroke="#b3118f" stroke-width="1.1"/>
<path d="M142.00,586.30 A180.77,180.77 0 0 1 395.80,586.30" fill="none" stroke="#b3118f" stroke-width="1.1"/>
<path d="M146.60,586.30 A178.49,178.49 0 0 1 397.20,586.30" fill="none" stroke="#b3118f" stroke-width="1.1"/>
<path d="M142.00,586.30 A182.76,182.76 0 0 1 398.60,586.30" fill="none" stroke="#b3118f" stroke-width="1.1"/>
<path d="M146.60,586.30 A180.49,180.49 0 0 1 400.00,586.30" fill="none" stroke="#b3118f" stroke-width="1.1"/>
<path d="M142.00,586.30 A184.76,184.76 0 0 1 401.40,586.30" fill="none" stroke="#b3118f" stroke-width="1.1"/>
<path d="M146.60,586.30 A182.48,182.48 0 0 1 402.80,586.30" fill="none" stroke="#b3118f" stroke-width="1.1"/>
<path d="M142.00,586.30 A186.75,186.75 0 0 1 404.20,586.30" fill="none" stroke="#b3118f" stroke-width="1.1"/>
<path d="M146.60,586.30 A184.40,184.40 0 0 1 405.50,586.30" fill="none" stroke="#b3118f" stroke-width="1.1"/>
<path d="M142.00,586.30 A188.18,188.18 0 0 1 406.20,586.30" fill="none" stroke="#b3118f" stroke-width="1.1"/>
<path d="M146.60,586.30 A245.44,245.44 0 0 1 491.20,586.30" fill="none" stroke="#b3118f" stroke-width="1.1"/>
<path d="M142.00,586.30 A250.36,250.36 0 0 1 493.50,586.30" fill="none" stroke="#b3118f" stroke-width="1.1"/>
<path d="M146.60,586.30 A248.72,248.72 0 0 1 495.80,586.30" fill="none" stroke="#b3118f" stroke-width="1.1"/>
<path d="M142.00,586.30 A253.56,253.56 0 0 1 498.00,586.30" fill="none" stroke="#b3118f" stroke-width="1.1"/>
<path d="M146.60,586.30 A252.00,252.00 0 0 1 500.40,586.30" fill="none" stroke="#b3118f" stroke-width="1.1"/>
<path d="M142.00,586.30 A260.69,260.69 0 0 1 508.00,586.30" fill="none" stroke="#b3118f" stroke-width="1.1"/>
<path d="M146.60,586.30 A272.72,272.72 0 0 1 529.50,586.30" fill="none" stroke="#b3118f" stroke-width="1.1"/>
<path d="M142.00,586.30 A284.69,284.69 0 0 1 541.70,586.30" fill="none" stroke="#b3118f" stroke-width="1.1"/>
<path d="M146.60,586.30 A286.90,286.90 0 0 1 549.40,586.30" fill="none" stroke="#b3118f" stroke-width="1.1"/>
<path d="M142.00,586.30 A297.79,297.79 0 0 1 560.10,586.30" fill="none" stroke="#b3118f" stroke-width="1.1"/>
<rect x="120.05" y="589.60" width="1.10" height="7.60" fill="#2f625e"/>
<rect x="128.75" y="589.60" width="1.10" height="7.60" fill="#2f625e"/>
<rect x="159.05" y="589.60" width="1.10" height="7.60" fill="#2f625e"/>
<rect x="176.75" y="589.60" width="1.10" height="7.60" fill="#2f625e"/>
<rect x="196.05" y="589.60" width="1.10" height="7.60" fill="#2f625e"/>
<rect x="215.75" y="589.60" width="1.10" height="7.60" fill="#2f625e"/>
<rect x="236.45" y="589.60" width="1.10" height="7.60" fill="#2f625e"/>
<rect x="254.25" y="589.60" width="1.10" height="7.60" fill="#2f625e"/>
<rect x="264.15" y="589.60" width="1.10" height="7.60" fill="#2f625e"/>
<rect x="282.05" y="589.60" width="1.10" height="7.60" fill="#2f625e"/>
<rect x="394.75" y="589.60" width="1.10" height="7.60" fill="#2f625e"/>
<rect x="486.95" y="589.60" width="1.10" height="7.60" fill="#2f625e"/>
<rect x="497.10" y="589.60" width="2.20" height="7.60" fill="#2f625e"/>
<rect x="509.95" y="589.60" width="1.10" height="7.60" fill="#2f625e"/>
<rect x="523.75" y="589.60" width="1.10" height="7.60" fill="#2f625e"/>
<rect x="549.45" y="589.60" width="1.10" height="7.60" fill="#2f625e"/>
<rect x="558.95" y="589.60" width="1.10" height="7.60" fill="#2f625e"/>
<rect x="572.75" y="589.60" width="1.10" height="7.60" fill="#2f625e"/>
<rect x="238.15" y="599.20" width="1.10" height="7.40" fill="#2f625e"/>
<rect x="254.75" y="599.20" width="1.10" height="7.40" fill="#2f625e"/>
<line x1="141.10" y1="590.00" x2="141.10" y2="625.00" stroke="#ff0000" stroke-width="2"/>
<line x1="147.00" y1="590.00" x2="147.00" y2="625.00" stroke="#ff0000" stroke-width="2"/>
<line x1="351.40" y1="590.50" x2="351.40" y2="625.10" stroke="#0e900e" stroke-width="2.2"/>
<line x1="375.60" y1="590.50" x2="375.60" y2="625.10" stroke="#0e900e" stroke-width="2.2"/>
<text x="314.80" y="637.40" font-size="8.5" fill="#1a1a1a" stroke="#1a1a1a" stroke-width="0.18" text-anchor="start" font-weight="normal">rs1524068</text>
<text x="314.80" y="647.30" font-size="8.5" fill="#1a1a1a" stroke="#1a1a1a" stroke-width="0.18" text-anchor="start" font-weight="normal">rs6975644</text>
<text x="314.80" y="656.80" font-size="8.5" fill="#1a1a1a" stroke="#1a1a1a" stroke-width="0.18" text-anchor="start" font-weight="normal">rs940347</text>
<text x="375.00" y="637.40" font-size="8.5" fill="#1a1a1a" stroke="#1a1a1a" stroke-width="0.18" text-anchor="start" font-weight="normal">rs6959212</text>
<text x="58.50" y="633.30" font-size="8.5" fill="#1a1a1a" stroke="#1a1a1a" stroke-width="0.18" text-anchor="start" font-weight="normal">p14.1</text>
<text x="58.50" y="642.00" font-size="8.5" fill="#1a1a1a" stroke="#1a1a1a" stroke-width="0.18" text-anchor="start" font-weight="normal">chr7</text>
<line x1="47.40" y1="607.00" x2="118.70" y2="607.00" stroke="#2445c6" stroke-width="1.0"/>
<path d="M49.80,604.20L52.40,607.00L49.80,609.80M55.60,604.20L58.20,607.00L55.60,609.80M75.30,604.20L77.90,607.00L75.30,609.80M81.70,604.20L84.30,607.00L81.70,609.80M87.60,604.20L90.20,607.00L87.60,609.80M99.80,604.20L102.40,607.00L99.80,609.80M105.70,604.20L108.30,607.00L105.70,609.80" fill="none" stroke="#0c2dbd" stroke-width="1.05"/>
<rect x="47.40" y="603.00" width="1.90" height="8.00" fill="#0c2dbd"/>
<rect x="58.40" y="603.00" width="1.00" height="8.00" fill="#0c2dbd"/>
<rect x="65.00" y="603.00" width="1.00" height="8.00" fill="#0c2dbd"/>
<rect x="67.20" y="603.00" width="1.00" height="8.00" fill="#0c2dbd"/>
<rect x="69.20" y="603.00" width="1.00" height="8.00" fill="#0c2dbd"/>
<rect x="71.00" y="603.00" width="1.00" height="8.00" fill="#0c2dbd"/>
<rect x="74.00" y="603.00" width="1.00" height="8.00" fill="#0c2dbd"/>
<rect x="86.80" y="603.00" width="1.00" height="8.00" fill="#0c2dbd"/>
<rect x="95.40" y="603.00" width="1.00" height="8.00" fill="#0c2dbd"/>
<rect x="97.20" y="603.00" width="1.00" height="8.00" fill="#0c2dbd"/>
<rect x="101.50" y="603.00" width="1.00" height="8.00" fill="#0c2dbd"/>
<rect x="110.00" y="603.00" width="1.00" height="8.00" fill="#0c2dbd"/>
<rect x="112.60" y="603.00" width="1.00" height="8.00" fill="#0c2dbd"/>
<rect x="114.00" y="603.00" width="1.00" height="8.00" fill="#0c2dbd"/>
<rect x="118.00" y="603.00" width="1.00" height="8.00" fill="#0c2dbd"/>
<text x="122.50" y="610.00" font-size="8.2" fill="#0c2dbd" stroke="#0c2dbd" stroke-width="0.18" text-anchor="start" font-weight="normal">NME8</text>
<line x1="126.40" y1="616.20" x2="139.60" y2="616.20" stroke="#2445c6" stroke-width="1.0"/>
<path d="M131.00,613.40L128.60,616.20L131.00,619.00M134.70,613.40L132.30,616.20L134.70,619.00M138.60,613.40L136.20,616.20L138.60,619.00" fill="none" stroke="#0c2dbd" stroke-width="1.05"/>
<rect x="126.40" y="613.20" width="2.00" height="6.00" fill="#0c2dbd"/>
<rect x="130.20" y="612.20" width="1.00" height="8.00" fill="#0c2dbd"/>
<rect x="134.10" y="612.20" width="1.00" height="8.00" fill="#0c2dbd"/>
<rect x="138.00" y="612.20" width="1.00" height="8.00" fill="#0c2dbd"/>
<rect x="139.20" y="612.20" width="1.00" height="8.00" fill="#0c2dbd"/>
<text x="123.90" y="619.20" font-size="8.6" fill="#0c2dbd" stroke="#0c2dbd" stroke-width="0.18" text-anchor="end" font-weight="normal">SFRP4</text>
<line x1="146.70" y1="625.40" x2="189.00" y2="625.40" stroke="#2445c6" stroke-width="1.0"/>
<path d="M146.10,622.50L149.10,625.40L146.10,628.30M152.20,622.50L155.20,625.40L152.20,628.30M158.30,622.50L161.30,625.40L158.30,628.30M164.40,622.50L167.40,625.40L164.40,628.30M170.50,622.50L173.50,625.40L170.50,628.30M176.60,622.50L179.60,625.40L176.60,628.30" fill="none" stroke="#0c2dbd" stroke-width="1.05"/>
<rect x="146.20" y="621.40" width="1.00" height="8.00" fill="#0c2dbd"/>
<rect x="185.60" y="622.40" width="3.40" height="6.00" fill="#0c2dbd"/>
<text x="144.20" y="628.40" font-size="8.6" fill="#0c2dbd" stroke="#0c2dbd" stroke-width="0.18" text-anchor="end" font-weight="normal">EPDR1</text>
<line x1="146.70" y1="634.00" x2="189.00" y2="634.00" stroke="#2445c6" stroke-width="1.0"/>
<path d="M146.10,631.10L149.10,634.00L146.10,636.90M152.20,631.10L155.20,634.00L152.20,636.90M158.30,631.10L161.30,634.00L158.30,636.90M164.40,631.10L167.40,634.00L164.40,636.90M170.50,631.10L173.50,634.00L170.50,636.90M176.60,631.10L179.60,634.00L176.60,636.90" fill="none" stroke="#0c2dbd" stroke-width="1.05"/>
<rect x="146.20" y="630.00" width="1.00" height="8.00" fill="#0c2dbd"/>
<rect x="185.60" y="631.00" width="3.40" height="6.00" fill="#0c2dbd"/>
<text x="144.20" y="637.00" font-size="8.6" fill="#0c2dbd" stroke="#0c2dbd" stroke-width="0.18" text-anchor="end" font-weight="normal">EPDR1</text>
<line x1="147.40" y1="642.80" x2="189.00" y2="642.80" stroke="#2445c6" stroke-width="1.0"/>
<path d="M146.10,639.90L149.10,642.80L146.10,645.70M152.20,639.90L155.20,642.80L152.20,645.70M158.30,639.90L161.30,642.80L158.30,645.70M164.40,639.90L167.40,642.80L164.40,645.70M170.50,639.90L173.50,642.80L170.50,645.70M176.60,639.90L179.60,642.80L176.60,645.70" fill="none" stroke="#0c2dbd" stroke-width="1.05"/>
<rect x="146.90" y="638.80" width="1.00" height="8.00" fill="#0c2dbd"/>
<rect x="185.60" y="639.80" width="3.40" height="6.00" fill="#0c2dbd"/>
<text x="144.20" y="645.80" font-size="8.6" fill="#0c2dbd" stroke="#0c2dbd" stroke-width="0.18" text-anchor="end" font-weight="normal">EPDR1</text>
<line x1="498.70" y1="607.60" x2="569.80" y2="607.60" stroke="#2445c6" stroke-width="1.0"/>
<path d="M501.90,604.70L504.90,607.60L501.90,610.50M507.80,604.70L510.80,607.60L507.80,610.50M514.20,604.70L517.20,607.60L514.20,610.50M520.00,604.70L523.00,607.60L520.00,610.50M526.50,604.70L529.50,607.60L526.50,610.50M532.30,604.70L535.30,607.60L532.30,610.50M538.70,604.70L541.70,607.60L538.70,610.50M543.40,604.70L546.40,607.60L543.40,610.50M550.40,604.70L553.40,607.60L550.40,610.50M556.30,604.70L559.30,607.60L556.30,610.50M562.10,604.70L565.10,607.60L562.10,610.50" fill="none" stroke="#0c2dbd" stroke-width="1.05"/>
<rect x="498.30" y="604.10" width="1.00" height="7.00" fill="#0c2dbd"/>
<rect x="538.80" y="603.60" width="1.00" height="8.00" fill="#0c2dbd"/>
<rect x="547.80" y="603.60" width="2.10" height="8.00" fill="#0c2dbd"/>
<rect x="551.60" y="603.60" width="1.00" height="8.00" fill="#0c2dbd"/>
<rect x="554.80" y="603.60" width="1.00" height="8.00" fill="#0c2dbd"/>
<rect x="568.60" y="603.60" width="1.20" height="8.00" fill="#0c2dbd"/>
<text x="496.20" y="610.60" font-size="8.6" fill="#0c2dbd" stroke="#0c2dbd" stroke-width="0.18" text-anchor="end" font-weight="normal">STARD3NL</text>
<line x1="610.50" y1="607.20" x2="629.50" y2="607.20" stroke="#2445c6" stroke-width="1.0"/>
<path d="M615.20,604.40L612.20,607.20L615.20,610.00M622.50,604.40L619.50,607.20L622.50,610.00M627.70,604.40L624.70,607.20L627.70,610.00" fill="none" stroke="#0c2dbd" stroke-width="1.05"/>
<rect x="610.10" y="604.70" width="1.00" height="5.00" fill="#0c2dbd"/>
<rect x="618.20" y="603.05" width="1.00" height="8.30" fill="#0c2dbd"/>
<rect x="629.00" y="604.45" width="1.00" height="5.50" fill="#0c2dbd"/>
<text x="608.00" y="610.20" font-size="8.6" fill="#0c2dbd" stroke="#0c2dbd" stroke-width="0.18" text-anchor="end" font-weight="normal">TARP</text>
<line x1="610.50" y1="616.40" x2="629.50" y2="616.40" stroke="#2445c6" stroke-width="1.0"/>
<path d="M615.20,613.60L612.20,616.40L615.20,619.20M622.50,613.60L619.50,616.40L622.50,619.20M627.70,613.60L624.70,616.40L627.70,619.20" fill="none" stroke="#0c2dbd" stroke-width="1.05"/>
<rect x="610.10" y="613.40" width="1.20" height="6.00" fill="#0c2dbd"/>
<rect x="613.10" y="613.40" width="1.10" height="6.00" fill="#0c2dbd"/>
<rect x="618.20" y="612.25" width="1.00" height="8.30" fill="#0c2dbd"/>
<rect x="629.00" y="613.65" width="1.00" height="5.50" fill="#0c2dbd"/>
<text x="608.00" y="619.40" font-size="8.6" fill="#0c2dbd" stroke="#0c2dbd" stroke-width="0.18" text-anchor="end" font-weight="normal">TARP</text>
</svg>
</body></html>
